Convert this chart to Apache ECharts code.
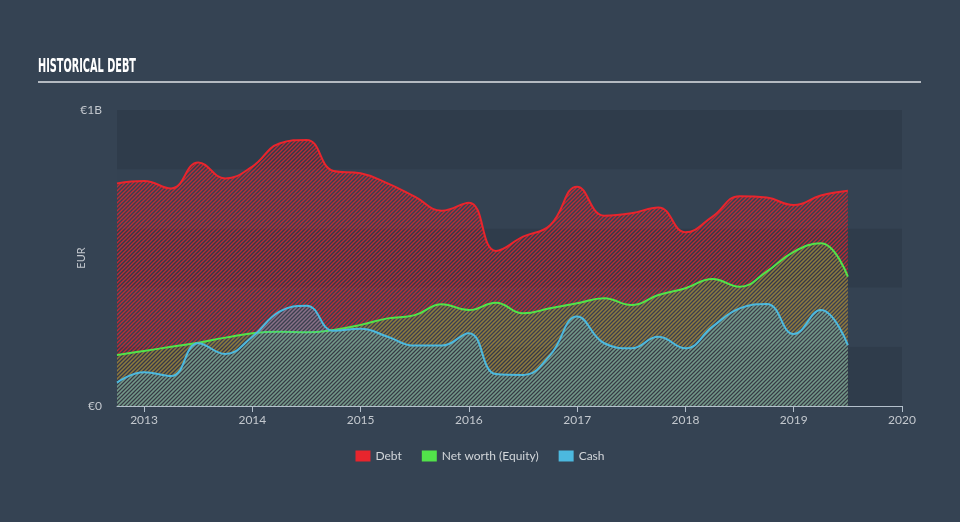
<!DOCTYPE html>
<html>
<head>
<meta charset="utf-8">
<script src="https://cdn.jsdelivr.net/npm/echarts@6/dist/echarts.min.js"></script>
<style>
html,body{margin:0;padding:0;background:#354353;}
#c{width:960px;height:522px;}
</style>
</head>
<body>
<div id="c"></div>
<script>
// Quarter-end dates as decimal years
const dates = [2012.75,2013.0,2013.25,2013.5,2013.75,2014.0,2014.25,2014.5,2014.75,2015.0,2015.25,2015.5,2015.75,2016.0,2016.25,2016.5,2016.75,2017.0,2017.25,2017.5,2017.75,2018.0,2018.25,2018.5,2018.75,2019.0,2019.25,2019.5];
// Values in millions EUR
const debt   = [752,760,735,823,769,809,887,899,794,786,752,707,660,687,524,572,611,741,643,651,671,587,640,709,704,679,711,727];
const equity = [172,186,200,214,231,246,251,249,257,274,296,307,344,324,349,313,330,347,364,341,375,398,429,403,454,521,550,437];
const cash   = [79,114,101,212,176,234,319,339,254,261,234,204,204,246,108,105,172,302,212,195,234,195,268,330,345,243,324,206];
const yearTicks = [2013,2014,2015,2016,2017,2018,2019,2020];
const seriesNames = ['Debt','Net worth (Equity)','Cash'];
const colors = ['#e8252d','#52e34a','#4cb9df'];

function hatch(color, alpha){
  const c = document.createElement('canvas');
  c.width = 4; c.height = 4;
  const ctx = c.getContext('2d');
  ctx.strokeStyle = color; ctx.globalAlpha = alpha; ctx.lineWidth = 1.4;
  ctx.beginPath();
  ctx.moveTo(0,4); ctx.lineTo(4,0);
  ctx.moveTo(-1,1); ctx.lineTo(1,-1);
  ctx.moveTo(3,5); ctx.lineTo(5,3);
  ctx.stroke();
  return c;
}
const pair = arr => arr.map((v,i)=>[dates[i], v]);

const titleText = 'HISTORICAL DEBT';
const titleFont = 'bold 19px "DejaVu Sans Condensed", "DejaVu Sans", sans-serif';
const mc = document.createElement('canvas').getContext('2d');
mc.font = titleFont;
const tw = mc.measureText(titleText).width;
const sx = 98 / tw;

const chart = echarts.init(document.getElementById('c'), null, {renderer:'canvas'});
const axisTextColor = '#c3c8ce';
const fam = 'Lato, "Open Sans", sans-serif';
const option = {
  backgroundColor: '#354353',
  animation: false,
  grid: {left:117, right:58, top:110, bottom:116, containLabel:false},
  legend: {
    data: seriesNames.map((n,i)=>({name:n, itemStyle:{color:colors[i]}})),
    left: 'center', top: 445,
    icon: 'rect', itemWidth: 15, itemHeight: 11, itemGap: 20,
    textStyle: {color:'#d2d6da', fontSize:12, fontFamily:fam}
  },
  graphic: [
    {type:'text', left: 38, top: 58, scaleX: sx, originX: 0,
     style:{text:titleText, font: titleFont, fill:'#ffffff'}},
    {type:'line', shape:{x1:38, y1:82, x2:921, y2:82}, style:{stroke:'#b4bac1', lineWidth:2}}
  ],
  xAxis: {
    type:'value', min:2012.75, max:2020,
    axisLine:{show:true, lineStyle:{color:'#b4c0cc', width:1}},
    axisTick:{show:true, length:6, lineStyle:{color:'#b4c0cc'}, customValues: yearTicks},
    axisLabel:{color:axisTextColor, fontSize:12, margin:8, fontFamily:fam,
      customValues: yearTicks, formatter: v => String(Math.round(v))},
    splitLine:{show:false}
  },
  yAxis: {
    type:'value', min:0, max:1000, interval:200,
    name:'EUR', nameLocation:'middle', nameGap:30, nameRotate:90, nameMoveOverlap:false,
    nameTextStyle:{color:axisTextColor, fontSize:11, fontFamily:fam},
    axisLine:{show:false}, axisTick:{show:false},
    axisLabel:{color:axisTextColor, fontSize:12, margin:15, fontFamily:fam,
      formatter: v => v===0 ? '€0' : (v===1000 ? '€1B' : '')},
    splitLine:{show:false},
    splitArea:{show:true, areaStyle:{color:['#2f3c4b','#344252']}}
  },
  series: [
    {name:seriesNames[0], type:'line', smooth:0.45, symbol:'none', data:pair(debt),
     lineStyle:{color:colors[0], width:2}, itemStyle:{color:colors[0]},
     areaStyle:{color:{image:hatch(colors[0],0.75), repeat:'repeat'}, opacity:1}, z:2},
    {name:seriesNames[1], type:'line', smooth:0.45, symbol:'none', data:pair(equity),
     lineStyle:{color:colors[1], width:2}, itemStyle:{color:colors[1]},
     areaStyle:{color:{image:hatch(colors[1],0.45), repeat:'repeat'}, opacity:1}, z:3},
    {name:seriesNames[2], type:'line', smooth:0.45, symbol:'none', data:pair(cash),
     lineStyle:{color:colors[2], width:2}, itemStyle:{color:colors[2]},
     areaStyle:{color:{image:hatch(colors[2],0.5), repeat:'repeat'}, opacity:1}, z:4}
  ]
};
chart.setOption(option);
</script>
</body>
</html>
